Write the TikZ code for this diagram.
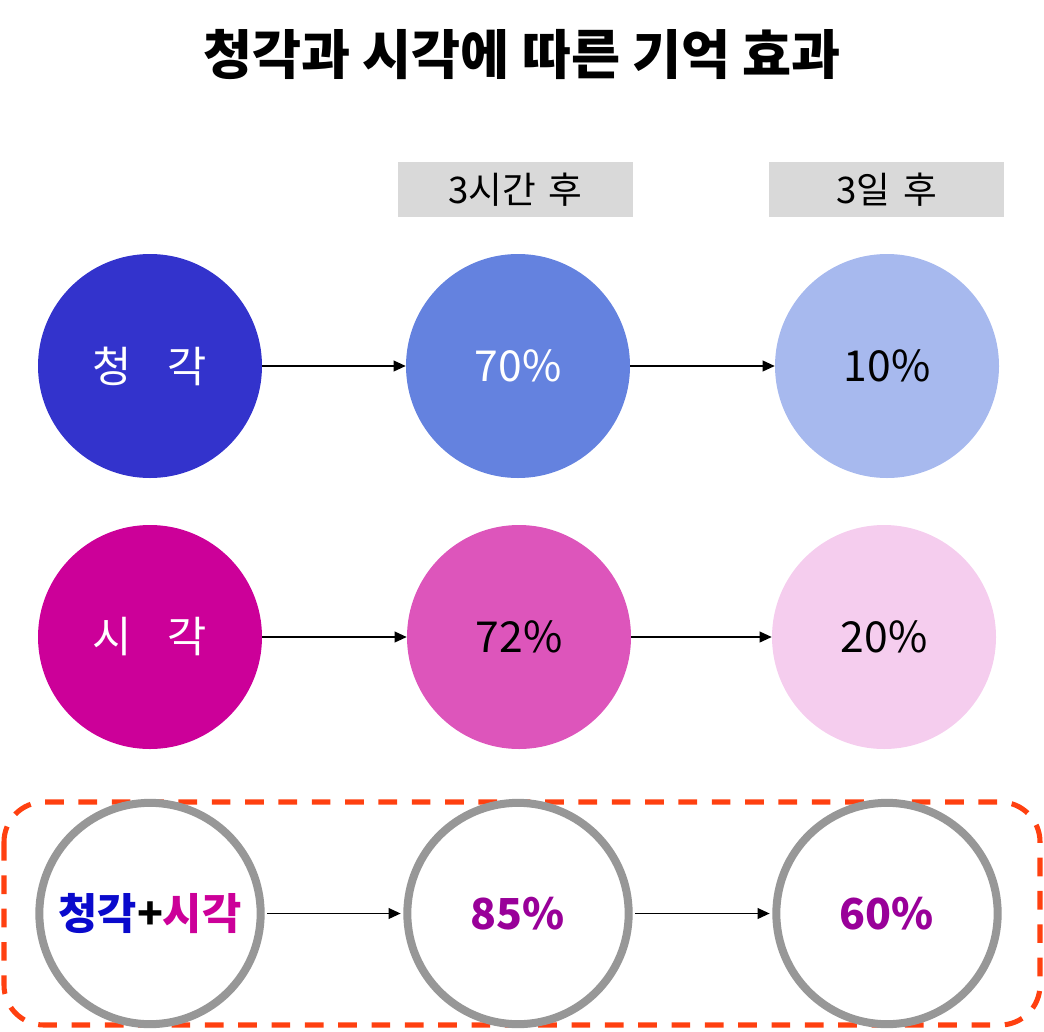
\documentclass[tikz,border=0pt]{standalone}
\usepackage{fontspec}
\setmainfont{Noto Sans CJK KR}
\usetikzlibrary{arrows.meta}
\definecolor{hearA}{HTML}{3333CC}
\definecolor{hearB}{HTML}{6482DF}
\definecolor{hearC}{HTML}{A7B9EE}
\definecolor{seeA}{HTML}{CC0099}
\definecolor{seeB}{HTML}{DD55BB}
\definecolor{seeC}{HTML}{F5CDEE}
\definecolor{ringgray}{HTML}{979797}
\definecolor{hdrgray}{HTML}{D9D9D9}
\definecolor{dashred}{HTML}{FF4010}
\definecolor{txtblue}{HTML}{0A0ACC}
\definecolor{txtpink}{HTML}{CC0099}
\definecolor{txtpurple}{HTML}{990099}
\begin{document}
\begin{tikzpicture}[x=0.75pt,y=-0.75pt,
  ball/.style={circle,minimum size=168pt,inner sep=0pt,font=\fontsize{32}{38}\selectfont},
  ring/.style={circle,draw=ringgray,line width=6pt,fill=white,minimum size=166pt,inner sep=0pt,font=\bfseries\fontsize{32}{38}\selectfont},
  hdr/.style={fill=hdrgray,minimum width=176pt,minimum height=41pt,inner sep=0pt,font=\fontsize{27.5}{32}\selectfont},
  arr/.style={-{Triangle[length=9pt,width=8pt]},line width=1.2pt}]
\useasboundingbox (0,0) rectangle (1044,1031);
\node (title) at (522,55) {\bfseries\fontsize{40}{48}\selectfont 청각과 시각에 따른 기억 효과};
\node[hdr] (h1) at (515.5,189.5) {3시간\hspace{0.35em}후};
\node[hdr] (h2) at (886.5,189.5) {3일\hspace{0.35em}후};
% dashed frame
\draw[dashred,line width=3.8pt,dash pattern=on 14pt off 11pt,rounded corners=30pt] (4,802) rectangle (1040,1025);
% row 1
\node[ball,fill=hearA,text=white] (a1) at (150,366) {청\hspace{0.84em}각};
\node[ball,fill=hearB,text=white] (a2) at (518,366) {70\%};
\node[ball,fill=hearC] (a3) at (887,366) {10\%};
% row 2
\node[ball,fill=seeA,text=white] (b1) at (150,637) {시\hspace{0.84em}각};
\node[ball,fill=seeB] (b2) at (519,637) {72\%};
\node[ball,fill=seeC] (b3) at (884,637) {20\%};
% row 3
\node[ring] (c1) at (150,913.5) {\textcolor{txtblue}{청각}+\textcolor{txtpink}{시각}};
\node[ring,text=txtpurple] (c2) at (518,913.5) {85\%};
\node[ring,text=txtpurple] (c3) at (887,913.5) {60\%};
% arrows
\draw[arr] (a1) -- (a2);
\draw[arr] (a2) -- (a3);
\draw[arr] (b1) -- (b2);
\draw[arr] (b2) -- (b3);
\draw[arr,shorten <=2pt,shorten >=2pt] (c1) -- (c2);
\draw[arr,shorten <=2pt,shorten >=2pt] (c2) -- (c3);
\end{tikzpicture}
\end{document}
